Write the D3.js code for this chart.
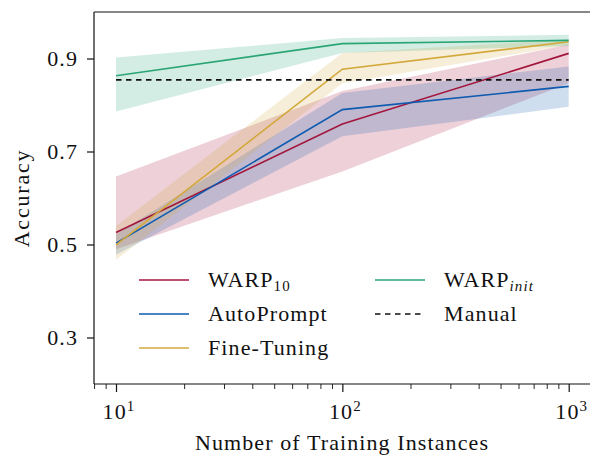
<!DOCTYPE html>
<html><head><meta charset="utf-8">
<script src="https://cdn.jsdelivr.net/npm/d3@7"></script>
<style>body{margin:0;background:#fff}svg{display:block}text{font-family:"Liberation Serif","Times New Roman",serif;fill:#111}</style>
</head><body><svg id="c" width="590" height="455"></svg>
<script>
const xs = [10, 100, 1000];
const warp10 = [0.526, 0.759, 0.911];
const warp10Lo = [0.49, 0.657, 0.847];
const warp10Hi = [0.646, 0.830, 0.930];
const autoPrompt = [0.503, 0.790, 0.840];
const autoPromptLo = [0.478, 0.733, 0.796];
const autoPromptHi = [0.522, 0.826, 0.883];
const fineTuning = [0.499, 0.877, 0.936];
const fineTuningLo = [0.467, 0.847, 0.929];
const fineTuningHi = [0.540, 0.912, 0.941];
const warpInit = [0.863, 0.932, 0.939];
const warpInitLo = [0.786, 0.912, 0.927];
const warpInitHi = [0.902, 0.944, 0.951];
const manual = [0.854, 0.854, 0.854];
const yTicks = [0.3, 0.5, 0.7, 0.9];
const xMajor = [10, 100, 1000];
const xMinor = [8, 9, 20, 30, 40, 50, 60, 70, 80, 90, 200, 300, 400, 500, 600, 700, 800, 900];

const svg = d3.select("#c");
const L = 94, R = 592, T = 12, B = 384;
const x = d3.scaleLog().domain([10, 1000]).range([116, 568.7]);
const y = d3.scaleLinear().domain([0.2, 1.0]).range([B, T]);

const series = [
  {name: "WARP10", v: warp10, lo: warp10Lo, hi: warp10Hi, c: "#a3163c"},
  {name: "AutoPrompt", v: autoPrompt, lo: autoPromptLo, hi: autoPromptHi, c: "#0f5bb0"},
  {name: "Fine-Tuning", v: fineTuning, lo: fineTuningLo, hi: fineTuningHi, c: "#d3a83a"},
  {name: "WARPinit", v: warpInit, lo: warpInitLo, hi: warpInitHi, c: "#2aa676"}
];

const area = d3.area().x(d => x(d.x)).y0(d => y(d.lo)).y1(d => y(d.hi));
const line = d3.line().x(d => x(d.x)).y(d => y(d.v));

series.forEach(s => {
  const pts = xs.map((xv, i) => ({x: xv, lo: s.lo[i], hi: s.hi[i]}));
  svg.append("path").attr("d", area(pts)).attr("fill", s.c).attr("fill-opacity", 0.2);
});
series.forEach(s => {
  const pts = xs.map((xv, i) => ({x: xv, v: s.v[i]}));
  svg.append("path").attr("d", line(pts)).attr("fill", "none").attr("stroke", s.c).attr("stroke-width", 1.6);
});
svg.append("path").attr("d", line(xs.map((xv, i) => ({x: xv, v: manual[i]}))))
  .attr("fill", "none").attr("stroke", "#111").attr("stroke-width", 1.6).attr("stroke-dasharray", "5.5,4.5");

// spines
svg.append("line").attr("x1", L).attr("x2", L).attr("y1", T).attr("y2", B).attr("stroke", "#111").attr("stroke-width", 1.2);
svg.append("line").attr("x1", L).attr("x2", R).attr("y1", B).attr("y2", B).attr("stroke", "#111").attr("stroke-width", 1.2);
svg.append("line").attr("x1", L).attr("x2", R).attr("y1", T).attr("y2", T).attr("stroke", "#111").attr("stroke-width", 1.2);

const FS = "22px", LS = "1.1px";

// y axis
const ya = svg.append("g").attr("transform", `translate(${L},0)`)
  .call(d3.axisLeft(y).tickValues(yTicks).tickFormat(d3.format(".1f")).tickSize(7).tickPadding(9));
ya.select(".domain").remove();
ya.selectAll("line").attr("stroke", "#111").attr("stroke-width", 1.2);
ya.selectAll("text").style("font-size", FS).style("letter-spacing", LS).attr("fill", "#111").attr("font-family", null);

// x axis
const xa = svg.append("g").attr("transform", `translate(0,${B})`)
  .call(d3.axisBottom(x).tickValues(xMajor).tickFormat("").tickSize(8));
xa.select(".domain").remove();
xa.selectAll("line").attr("stroke", "#111").attr("stroke-width", 1.2);
const xm = svg.append("g").attr("transform", `translate(0,${B})`)
  .call(d3.axisBottom(x).tickValues(xMinor).tickFormat("").tickSize(5));
xm.select(".domain").remove();
xm.selectAll("line").attr("stroke", "#111").attr("stroke-width", 0.9);
xMajor.forEach(v => {
  const t = svg.append("text").attr("x", x(v) + 3).attr("y", 419).attr("text-anchor", "middle").style("font-size", FS).style("letter-spacing", LS);
  t.append("tspan").text("10");
  t.append("tspan").text(Math.round(Math.log10(v))).attr("dy", -8).style("font-size", "15px");
});

svg.append("text").attr("x", 342).attr("y", 450).attr("text-anchor", "middle").style("font-size", FS).style("letter-spacing", LS).text("Number of Training Instances");
svg.append("text").attr("transform", "translate(29,198) rotate(-90)").attr("text-anchor", "middle").style("font-size", FS).style("letter-spacing", "1.8px").text("Accuracy");

// legend
const leg = [
  {s: series[0], lx: 139, ly: 280, lab: ["WARP", "10", false]},
  {s: series[1], lx: 139, ly: 314, lab: ["AutoPrompt", null]},
  {s: series[2], lx: 139, ly: 348, lab: ["Fine-Tuning", null]},
  {s: series[3], lx: 375, ly: 280, lab: ["WARP", "init", true]},
  {s: null, lx: 375, ly: 314, lab: ["Manual", null]}
];
leg.forEach(e => {
  const ln = svg.append("line").attr("x1", e.lx).attr("x2", e.lx + 50).attr("y1", e.ly).attr("y2", e.ly)
    .attr("stroke", e.s ? e.s.c : "#111").attr("stroke-width", 1.6);
  if (!e.s) ln.attr("stroke-dasharray", "5.5,4.5");
  const t = svg.append("text").attr("x", e.lx + 69).attr("y", e.ly + 7).style("font-size", FS).style("letter-spacing", LS);
  t.append("tspan").text(e.lab[0]);
  if (e.lab[1]) {
    const sub = t.append("tspan").text(e.lab[1]).attr("dy", 4).style("font-size", "15px");
    if (e.lab[2]) sub.style("font-style", "italic");
  }
});
</script></body></html>
